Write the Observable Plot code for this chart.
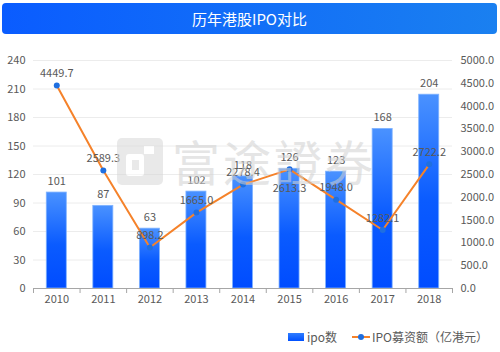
<!DOCTYPE html>
<html>
<head>
<meta charset="utf-8">
<script src="https://cdn.jsdelivr.net/npm/d3@7"></script>
<script src="https://cdn.jsdelivr.net/npm/@observablehq/plot@0.6"></script>
<style>
  body { margin: 0; background: #fff; font-family: "Noto Sans CJK SC", "Noto Sans", sans-serif; }
  #wrap { position: relative; width: 500px; height: 352px; overflow: hidden; }
  #title { position: absolute; left: 2px; top: 3px; width: 495px; height: 31px; border-radius: 4px;
    background: linear-gradient(90deg, #0a5cff, #1a80f0); color: #fff; font-size: 15px;
    line-height: 31px; text-align: center; }
  #chart { position: absolute; left: 0; top: 40px; }
  #legend { position: absolute; top: 328px; left: 0; width: 500px; height: 20px; font-size: 12px; color: #595959; }
  .wm { position: absolute; pointer-events: none; }
</style>
</head>
<body>
<div id="wrap">
  <div id="title">历年港股IPO对比</div>
  <div id="chart"></div>
  <div class="wm" style="left:117px;top:138px;width:46px;height:47px;border-radius:5px;background:#d8d8d8;opacity:0.55;">
    <div style="position:absolute;left:9px;top:16px;width:18px;height:22px;background:#fff;border-radius:3px;"></div>
    <div style="position:absolute;left:15px;top:22px;width:7px;height:10px;background:#d8d8d8;"></div>
    <div style="position:absolute;left:27px;top:8px;width:10px;height:8px;background:#fff;"></div>
  </div>
  <div class="wm" style="left:172px;top:130px;font-size:48px;line-height:60px;color:#d0d0d0;opacity:0.55;letter-spacing:3px;">富途證券</div>
  <div id="legend">
    <div style="position:absolute;left:288px;top:5px;width:16px;height:8px;background:linear-gradient(#2f7dff,#0050ff);"></div>
    <div style="position:absolute;left:307px;top:0px;line-height:18px;">ipo数</div>
    <div style="position:absolute;left:352px;top:8px;width:18px;height:2px;background:#f5822a;"></div>
    <div style="position:absolute;left:358px;top:6px;width:6px;height:6px;border-radius:3px;background:#1f6fe0;"></div>
    <div style="position:absolute;left:372px;top:0px;line-height:18px;">IPO募资额（亿港元）</div>
  </div>
</div>
<script>
const years = ["2010","2011","2012","2013","2014","2015","2016","2017","2018"];
const ipoCount = [101, 87, 63, 102, 118, 126, 123, 168, 204];
const ipoAmount = [4449.7, 2589.3, 898.2, 1665.0, 2278.4, 2613.3, 1948.0, 1282.1, 2722.2];
const amountLabelBelow = [false, false, false, false, false, true, false, false, false];
const leftTicks = [0, 30, 60, 90, 120, 150, 180, 210, 240];
const rightTicks = [0, 500, 1000, 1500, 2000, 2500, 3000, 3500, 4000, 4500, 5000];

const leftMax = 240, rightMax = 5000;
const toLeft = v => v * leftMax / rightMax;
const halfBar = 0.215;

const rows = years.map((y, i) => ({
  i, year: y, count: ipoCount[i], amount: ipoAmount[i], yAmount: toLeft(ipoAmount[i]), below: amountLabelBelow[i]
}));
const boundaries = d3.range(years.length + 1).map(k => k - 0.5);

const labelColor = "#595959";
const font = "'Noto Sans CJK SC', 'Noto Sans', sans-serif";

const plot = Plot.plot({
  width: 500,
  height: 280,
  marginTop: 20,
  marginBottom: 32,
  marginLeft: 33,
  marginRight: 48,
  style: { fontFamily: font, fontSize: "11px", color: labelColor, background: "transparent" },
  x: { domain: [-0.5, years.length - 0.5], axis: null, label: null },
  y: { domain: [0, leftMax], axis: null, label: null },
  marks: [
    Plot.ruleY(leftTicks.filter(t => t > 0), { stroke: "#ececec", strokeWidth: 1 }),
    Plot.rectY(rows, { x1: d => d.i - halfBar, x2: d => d.i + halfBar, y: "count", fill: "url(#barGrad)", stroke: "#7fb2ff", strokeWidth: 0.8 }),
    Plot.ruleY([0], { stroke: "#a6a6a6", strokeWidth: 1 }),
    Plot.axisX({ ticks: boundaries, tickFormat: () => "", tickSize: 5, stroke: "#a6a6a6", label: null }),
    Plot.axisX({ ticks: d3.range(years.length), tickFormat: i => years[i], tickSize: 0, tickPadding: 7, fill: labelColor, fontSize: 11, label: null }),
    Plot.axisY({ anchor: "left", ticks: leftTicks, tickSize: 0, tickPadding: 8, fill: labelColor, fontSize: 11, label: null }),
    Plot.axisY({ anchor: "right", ticks: rightTicks.map(toLeft), tickFormat: v => (v * rightMax / leftMax).toFixed(1), tickSize: 0, tickPadding: 8, fill: labelColor, fontSize: 11, label: null }),
    Plot.text(rows, { x: "i", y: "count", text: d => String(d.count), dy: -11, fill: labelColor, fontSize: 11 }),
    Plot.lineY(rows, { x: "i", y: "yAmount", stroke: "#f5822a", strokeWidth: 2 }),
    Plot.dot(rows, { x: "i", y: "yAmount", r: 3, fill: "#1f6fe0", stroke: "none" }),
    Plot.text(rows, { x: "i", y: "yAmount", text: d => d.amount.toFixed(1), fill: labelColor, fontSize: 11,
      filter: d => !d.below, dy: -12 }),
    Plot.text(rows, { x: "i", y: "yAmount", text: d => d.amount.toFixed(1), fill: labelColor, fontSize: 11,
      filter: d => d.below, dy: 19 })
  ]
});

const ns = "http://www.w3.org/2000/svg";
const defs = document.createElementNS(ns, "defs");
defs.innerHTML = `<linearGradient id="barGrad" x1="0" y1="0" x2="0" y2="1">
  <stop offset="0" stop-color="#4a92ff"/>
  <stop offset="0.55" stop-color="#0a5bff"/>
  <stop offset="1" stop-color="#004cff"/>
</linearGradient>`;
plot.insertBefore(defs, plot.firstChild);
document.getElementById("chart").appendChild(plot);
</script>
</body>
</html>
